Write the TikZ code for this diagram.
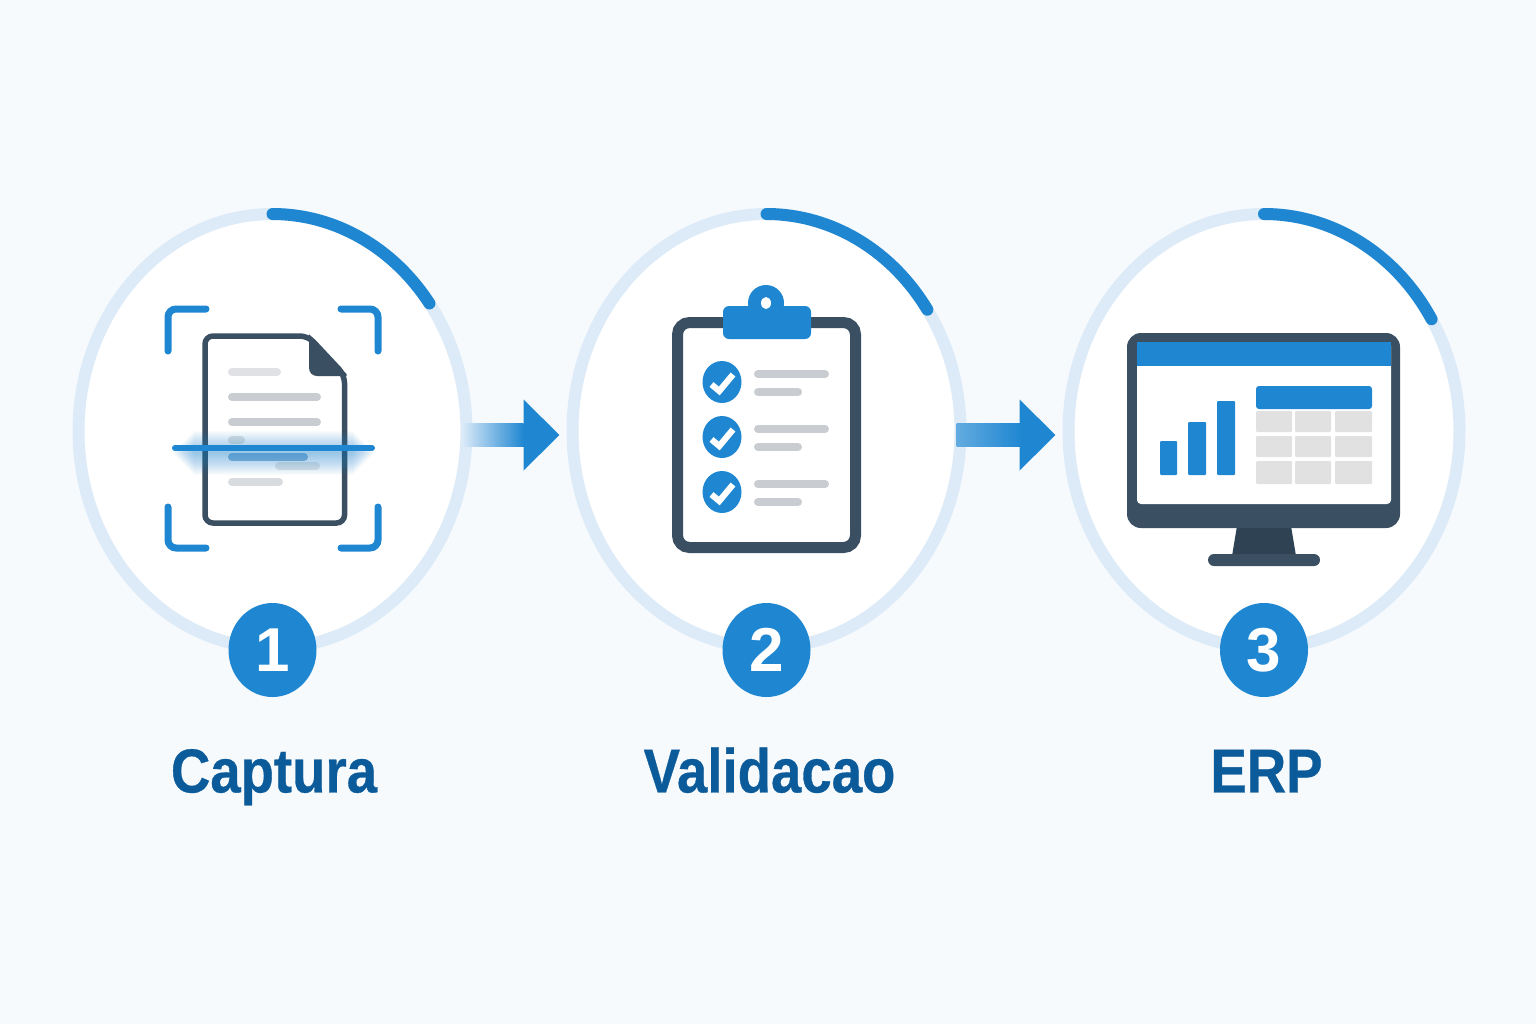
\documentclass[tikz,border=0pt]{standalone}
\usepackage{fontspec}
\setmainfont{Liberation Sans}
\newfontfamily\capfont[FakeStretch=0.88,BoldFeatures={FakeBold=0.5}]{Liberation Sans}
\usetikzlibrary{shapes.geometric, arrows.meta, positioning, calc}

\definecolor{pagebg}{HTML}{F6FAFD}
\definecolor{ringblue}{HTML}{DDEBF8}
\definecolor{mainblue}{HTML}{1F87D2}
\definecolor{textblue}{HTML}{0B5A99}
\definecolor{slate}{HTML}{3A4F62}
\definecolor{slatedark}{HTML}{2E4254}
\definecolor{linegrey}{HTML}{C9CDD2}
\definecolor{cellgrey}{HTML}{E1E1E1}

\begin{document}
\begin{tikzpicture}[
    x=.5pt, y=-.5pt,
    ring/.style={ellipse, draw=ringblue, fill=white, line width=6pt, outer sep=0pt,
    minimum width=194pt, minimum height=217pt},
    progress/.style={draw=mainblue, line width=6pt, line cap=round},
    badge/.style={ellipse, fill=mainblue, text=white, inner sep=0pt, outer sep=0pt,
    minimum width=44pt, minimum height=47pt, font=\fontsize{31}{31}\selectfont\bfseries},
    caption/.style={inner sep=0pt, text=textblue, text height=23pt, text depth=7pt,
    font=\capfont\fontsize{31}{31}\selectfont\bfseries},
    link/.style={draw=mainblue, line width=11.5pt, -{Triangle[length=18pt,width=34.5pt]}},
    corner/.style={draw=mainblue, line width=3.5pt, line cap=round, rounded corners=4pt},
    greyline/.style={draw=linegrey, line width=4pt, line cap=round},
    check/.style={draw=white, line width=3.1pt},
    tick/.style={ellipse, fill=mainblue, minimum width=19.5pt, minimum height=21pt, inner sep=0pt},
    chartbar/.style={fill=mainblue, rounded corners=.5pt},
    cell/.style={fill=cellgrey, rounded corners=.5pt}
]
\useasboundingbox[fill=pagebg] (0,0) rectangle (1536,1024);

% Nodes
\node[ring] (ring1) at (272.5,431) {};
\node[ring, right=53pt of ring1] (ring2) {};
\node[ring, right=54pt of ring2, minimum width=195.5pt] (ring3) {};

\node[badge, yshift=-1pt] (badge1) at (ring1.south) {1};
\node[badge, yshift=-1pt] (badge2) at (ring2.south) {2};
\node[badge, yshift=-1pt] (badge3) at (ring3.south) {3};

\node[caption, below=24.5pt of badge1, xshift=.75pt] (capture) {Captura};
\node[caption, below=24.5pt of badge2, xshift=1.5pt] (check) {Validacao};
\node[caption, below=24.5pt of badge3, xshift=1.25pt] (erp) {ERP};

% Progress arcs
\draw[progress] (ring1.north) arc[start angle=90, end angle=36, x radius=97pt, y radius=108.5pt];
\draw[progress] (ring2.north) arc[start angle=90, end angle=34, x radius=97pt, y radius=108.5pt];
\draw[progress] (ring3.north) arc[start angle=90, end angle=31, x radius=97.75pt, y radius=108.5pt];

% Arrows
\draw[link, shorten <=-2.5pt, shorten >=6.5pt] ([yshift=-2pt]ring1.east) -- ([yshift=-2pt]ring2.west);
\draw[link, shorten <=-2pt, shorten >=6.5pt] ([yshift=-2pt]ring2.east) -- ([yshift=-2pt]ring3.west);
\shade[left color=ringblue, right color=mainblue] ($(ring1.east)+(-5,-7.5)$) rectangle ($(ring1.east)+(57,15.5)$);
\shade[left color=mainblue!70!white, right color=mainblue] ($(ring2.east)+(-4,-7.5)$) rectangle ($(ring2.east)+(60,15.5)$);

% Scan icon
\draw[corner] (168,351) -- (168,309) -- (206,309);
\draw[corner] (341,309) -- (378,309) -- (378,351);
\draw[corner] (168,507) -- (168,548) -- (206,548);
\draw[corner] (341,548) -- (378,548) -- (378,507);
\draw[slate, line width=2.75pt, rounded corners=4pt, fill=white]
    (205,336) -- (308,336) -- (344.5,375) -- (344.5,523) -- (205,523) -- cycle;
\fill[slate] (309,334) -- (346.5,374) -- (346.5,376) [rounded corners=4pt] -- (309,376) [sharp corners] -- cycle;
\draw[greyline, linegrey!60] (232,372) -- (277,372);
\draw[greyline] (232,397) -- (317,397);
\draw[greyline] (232,422) -- (317,422);
\draw[greyline, linegrey!60] (232,440) -- (241,440);
\draw[greyline, mainblue!35!linegrey] (232,457) -- (304,457);
\draw[greyline, linegrey!50] (279,466) -- (316,466);
\draw[greyline, linegrey!70] (232,482) -- (279,482);
\foreach \w in {1,...,22}
    \draw[mainblue, opacity=.024, line width=\w pt] (172+\w,453) -- (375-\w,453);
\draw[mainblue, line width=3pt, line cap=round] (175,448) -- (372,448);

% Clipboard icon
\draw[slate, line width=5.5pt, rounded corners=6pt, fill=white] (677.5,322.5) rectangle (855.5,547.5);
\fill[mainblue] (766,303) circle[radius=18];
\fill[mainblue, rounded corners=3pt] (723,306) rectangle (811,339);
\fill[white] (766,303) ellipse[x radius=5, y radius=6];
\foreach \i/\yy in {1/382, 2/437, 3/492} {
    \node[tick] (tick\i) at (722,\yy) {};
    \draw[check] ($(tick\i)+(-10.5,2.5)$) -- ($(tick\i)+(-2.7,9)$) -- ($(tick\i)+(11,-7.5)$);
    \draw[greyline] (758,\yy-8) -- (825,\yy-8);
    \draw[greyline] (758,\yy+10) -- (798,\yy+10);
}

% Monitor icon
\fill[slatedark] (1237,526) -- (1291,526) -- (1296,556) -- (1232,556) -- cycle;
\fill[slate, rounded corners=3pt] (1208,554) rectangle (1320,566);
\fill[slate, rounded corners=7pt] (1127,333) rectangle (1400,528);
\fill[white, rounded corners=2pt] (1137,342) rectangle (1391,504);
\fill[mainblue] (1137,342) rectangle (1391,366);
\fill[chartbar] (1160,441) rectangle (1177,475);
\fill[chartbar] (1188,422) rectangle (1206,475);
\fill[chartbar] (1217,401) rectangle (1235,475);
\fill[mainblue, rounded corners=1.5pt] (1256,386) rectangle (1372,409);
\foreach \yy/\yb in {411/432, 436/457, 461/484}
    \foreach \xx/\xb in {1256/1292, 1295/1331, 1335/1372}
        \fill[cell] (\xx,\yy) rectangle (\xb,\yb);

\end{tikzpicture}
\end{document}
